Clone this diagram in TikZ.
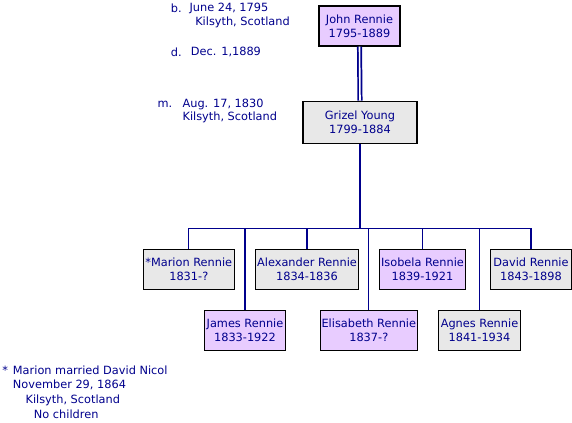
\documentclass[tikz,border=0pt]{standalone}
\usepackage{fontspec}
\setmainfont{DejaVu Sans}
\usetikzlibrary{calc}

\definecolor{famblue}{RGB}{0,0,140}
\definecolor{lilac}{RGB}{232,204,255}
\definecolor{greybox}{RGB}{232,232,232}

\tikzset{
    person/.style={draw=black, line width=0.9pt, text=famblue, align=center,
        minimum height=30pt, inner sep=0pt, font=\fontsize{8.5}{10.3}\selectfont},
    her/.style={person, fill=lilac},
    him/.style={person, fill=greybox},
    note/.style={anchor=west, inner sep=0pt, text=famblue, font=\fontsize{8.5}{10}\selectfont},
    link/.style={draw=famblue, line width=0.9pt}
}

\begin{document}
\begin{tikzpicture}[x=0.75pt, y=-0.75pt]
        \useasboundingbox (0,0) rectangle (572,422);

        % parents
        \node[her, minimum width=60.75pt] (john) at (359.5,26) {John Rennie\\1795-1889};
        \node[him, minimum width=85.5pt, minimum height=32pt] (grizel) at (360,122.5) {Grizel Young\\1799-1884};
        \draw[famblue, line width=1.3pt, double=white, double distance=1.2pt] (john.south) -- (grizel.north);

        % notes beside the parents
        \node[note] (bornTag) at (170.7,8) {b.};
        \node[note] (bornDate) at (189.3,8) {June 24, 1795};
        \node[note] (bornPlace) at (195,22.3) {Kilsyth, Scotland};
        \node[note] (diedTag) at (170.7,52.3) {d.};
        \node[note] (diedDate) at (190.7,52.3) {Dec. 1,1889};
        \node[note] (marTag) at (157.3,104.7) {m.};
        \node[note] (marDate) at (182.3,104.7) {Aug. 17, 1830};
        \node[note] (marPlace) at (182.3,117.7) {Kilsyth, Scotland};

        % children
        \node[him, minimum width=68.25pt] (marion) at (188.8,269.3) {*Marion Rennie\\1831-?};
        \node[her, minimum width=61pt] (james) at (245,330.3) {James Rennie\\1833-1922};
        \node[him, minimum width=77.5pt] (alexander) at (307,269.3) {Alexander Rennie\\1834-1836};
        \node[her, minimum width=72.75pt] (elisabeth) at (368.8,330.3) {Elisabeth Rennie\\1837-?};
        \node[her, minimum width=64.75pt] (isobela) at (422.5,269.3) {Isobela Rennie\\1839-1921};
        \node[him, minimum width=61.75pt] (agnes) at (479.5,330.3) {Agnes Rennie\\1841-1934};
        \node[him, minimum width=61pt] (david) at (531,269.3) {David Rennie\\1843-1898};

        \coordinate (bus) at (360,228.3);
        \draw[link] (grizel.south) -- (bus);
        \foreach \kid in {marion, james, alexander, elisabeth, isobela, agnes, david}
            \draw[link] (\kid.north) |- (bus);

        % footnote
        \node[note] (star) at (2,370) {*};
        \node[note] (fnOne) at (12.7,370) {Marion married David Nicol};
        \node[note] (fnTwo) at (12.7,385) {November 29, 1864};
        \node[note] (fnThree) at (25.3,400) {Kilsyth, Scotland};
        \node[note] (fnFour) at (33.7,414.5) {No children};
    \end{tikzpicture}
\end{document}
